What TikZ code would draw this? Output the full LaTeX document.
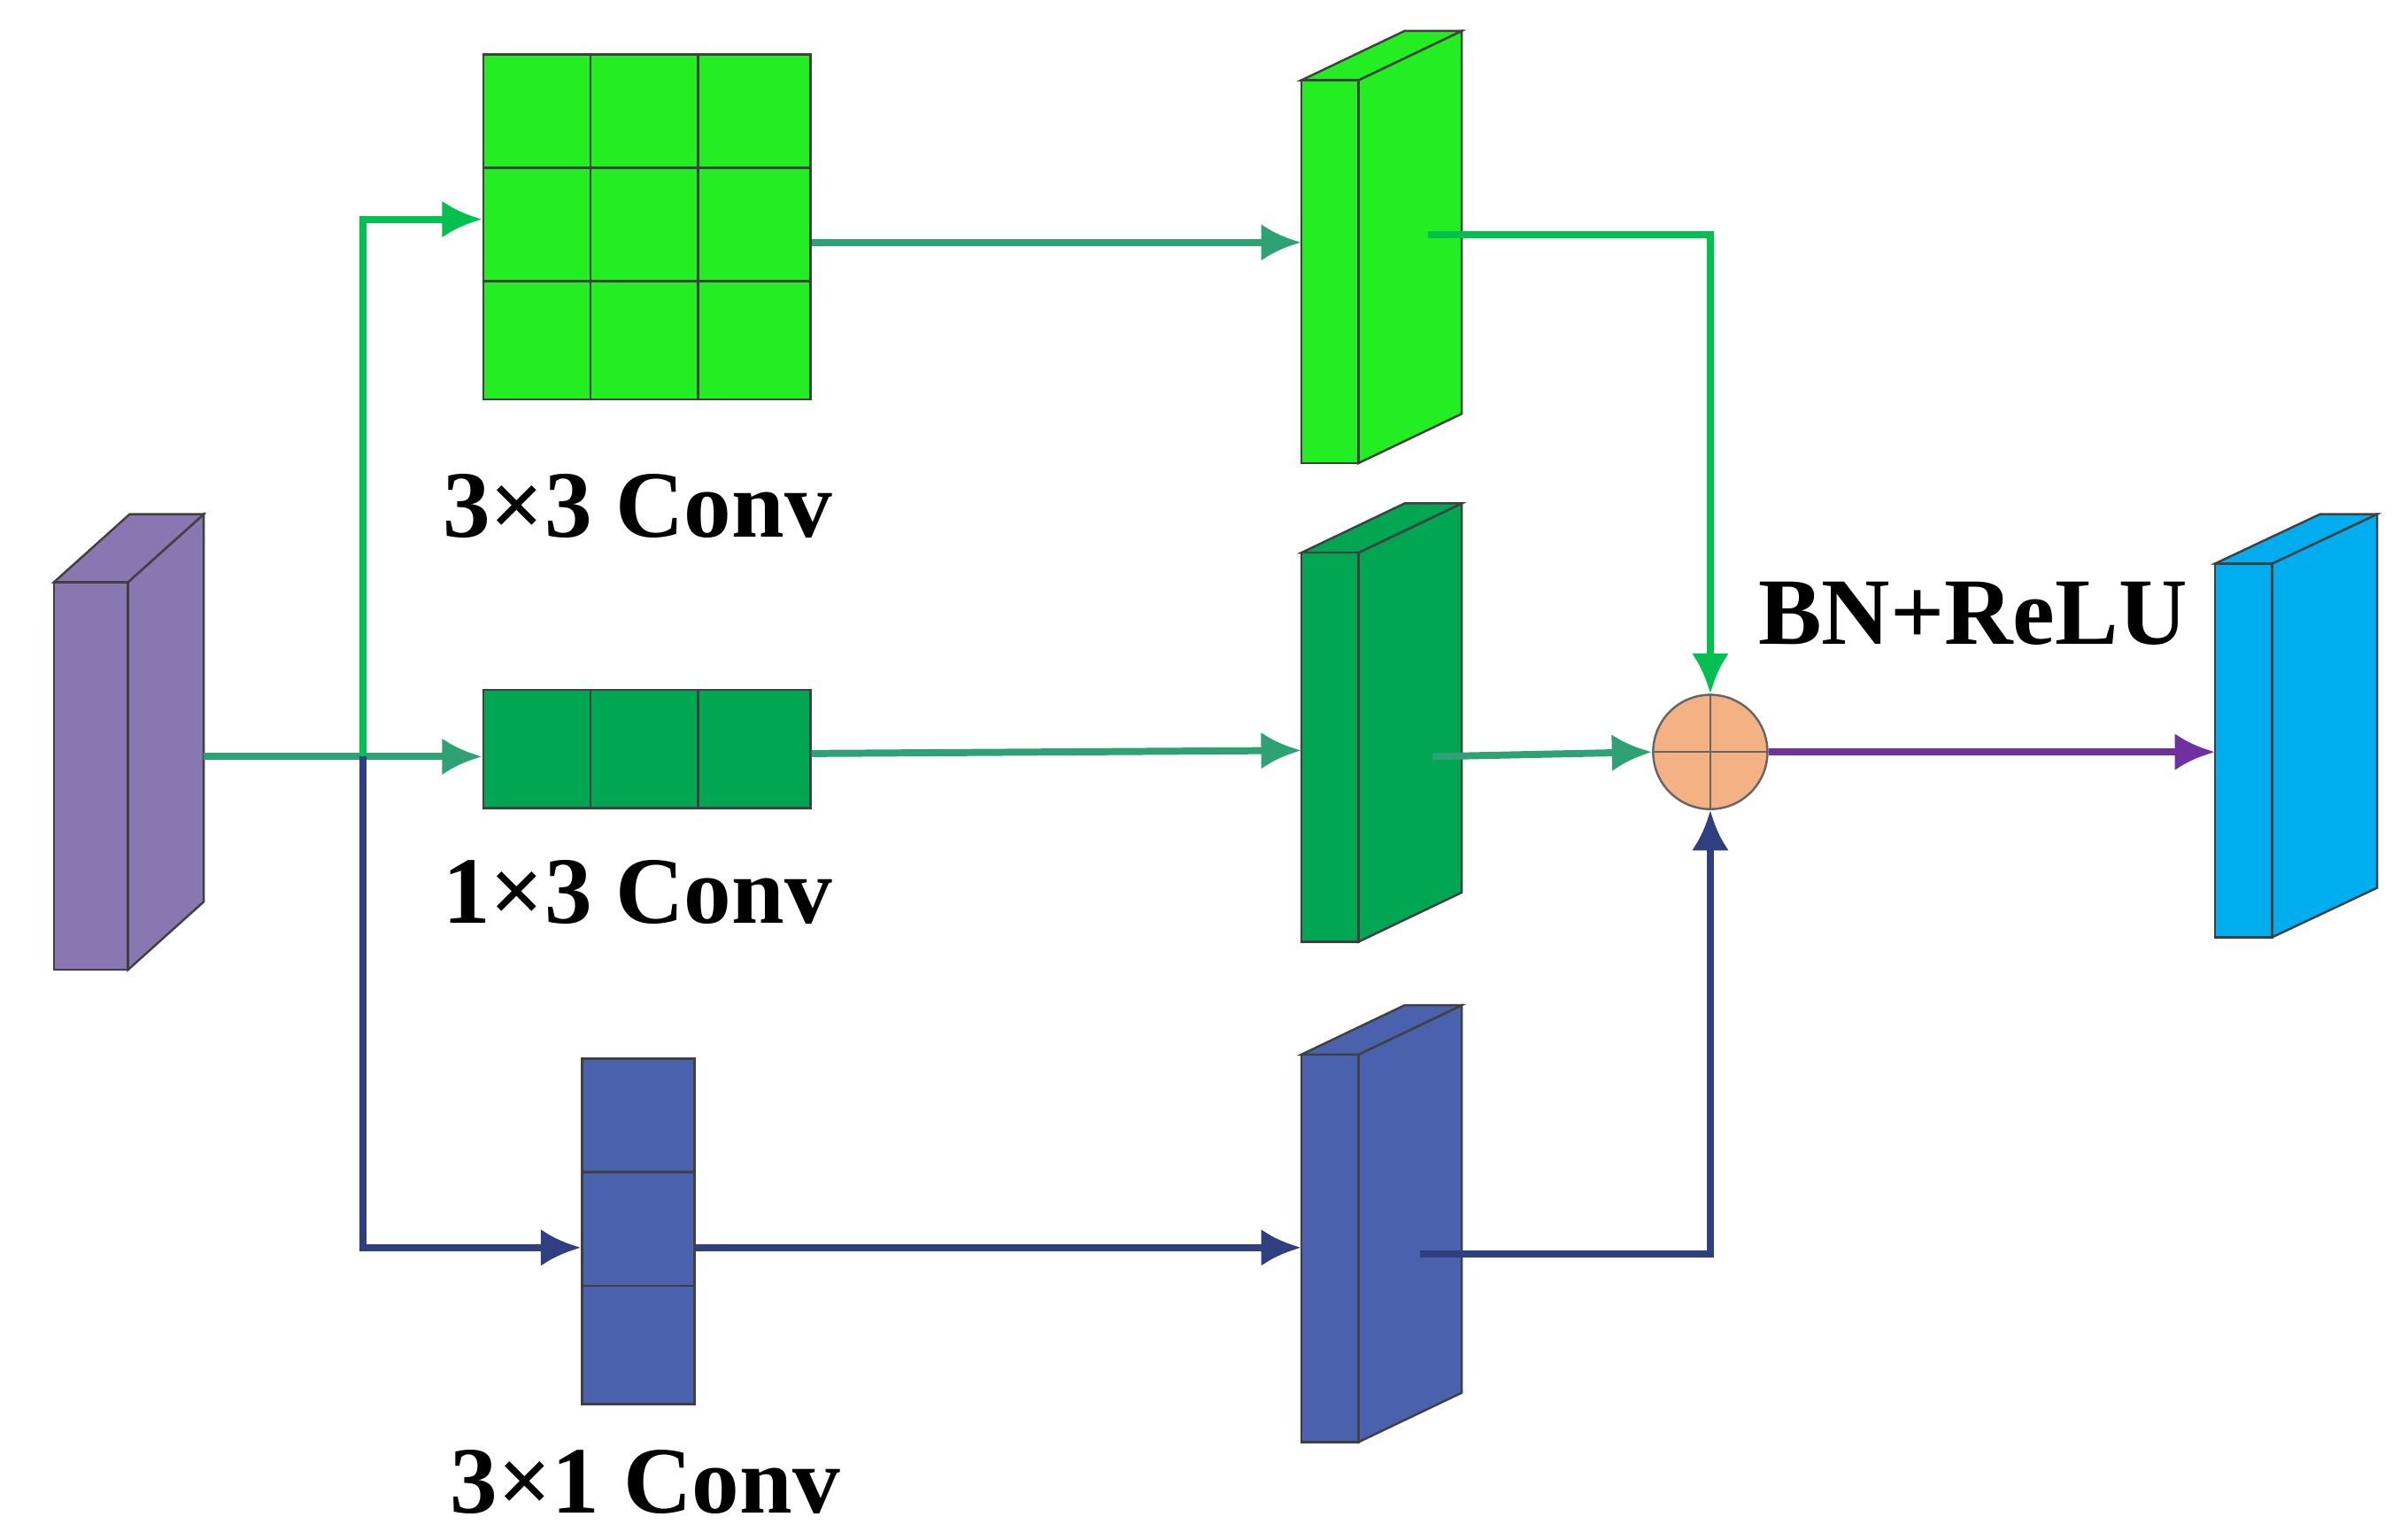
\documentclass[tikz,border=0pt]{standalone}
\usepackage{fontspec}
\setmainfont{Liberation Serif}
\usetikzlibrary{matrix,positioning,arrows.meta}
\tikzset{>={Latex[length=2.6mm,width=2.4mm]}}
\definecolor{inpurple}{HTML}{8877B0}
\definecolor{brgreen}{HTML}{22EE22}
\definecolor{dkgreen}{HTML}{00A651}
\definecolor{myblue}{HTML}{4A62AE}
\definecolor{outblue}{HTML}{00AEEF}
\definecolor{sumfill}{HTML}{F4B183}
\definecolor{lnteal}{HTML}{2EA275}
\definecolor{lngreen}{HTML}{00C050}
\definecolor{lnnavy}{HTML}{2F3F80}
\definecolor{lnpurple}{HTML}{7030A0}
% 3d feature block: name, x, ytop, ybot, width, dx, dy, colour
\newcommand{\fblock}[8]{%
  \filldraw[fill=#8,draw=black!75,thin] (#2+#5,#3) -- ++(#6,-#7) -- (#2+#5+#6,#4-#7) -- (#2+#5,#4) -- cycle;
  \filldraw[fill=#8,draw=black!75,thin] (#2,#3) -- ++(#6,-#7) -- ++(#5,0) -- (#2+#5,#3) -- cycle;
  \node[draw=black!75,thin,fill=#8,inner sep=0,outer sep=0,anchor=north west,
        minimum width={#5*0.01cm},minimum height={(#4-#3)*0.01cm}] (#1) at (#2,#3) {};}
\begin{document}
\begin{tikzpicture}[x=0.01cm,y=-0.01cm,
  line width=1.3pt,
  GRID/.style={matrix of nodes,
               nodes={draw=black!75,thin,minimum width=7.27mm,minimum height=7.66mm,
                      anchor=center,inner sep=0pt,outer sep=0pt},
               column sep=-\pgflinewidth, row sep=-\pgflinewidth,
               inner sep=0pt, outer sep=0pt},
  LBL/.style={font=\fontsize{17.5}{20}\selectfont\bfseries},
  sumnode/.style={circle,draw=black!60,thin,fill=sumfill,minimum size=7.4mm,inner sep=0}
]
\useasboundingbox (0,0) rectangle (1560,997);

% input and output blocks
\fblock{inp}{35}{377}{628}{48}{49}{44}{inpurple}
\fblock{out}{1435}{365}{607}{37}{68}{32}{outblue}

% kernels
\matrix (k33) [GRID, nodes={fill=brgreen}] at (419,147)
{ {} & {} & {} \\ {} & {} & {} \\ {} & {} & {} \\ };
\matrix (k13) [GRID, nodes={fill=dkgreen}] at (419,485)
{ {} & {} & {} \\ };
\matrix (k31) [GRID, nodes={fill=myblue}] at (413.5,797.5)
{ {} \\ {} \\ {} \\ };
\node[LBL] at (413,328) {3×3 Conv};
\node[LBL] at (413,578) {1×3 Conv};
\node[LBL] at (418,960) {3×1 Conv};

% feature maps
\fblock{f1}{843}{52}{300}{37}{67}{32}{brgreen}
\fblock{f2}{843}{358}{610}{37}{67}{32}{dkgreen}
\fblock{f3}{843}{683}{934}{37}{67}{32}{myblue}

% fusion
\node[sumnode] (sum) at (1108,487) {};
\draw[thin,black!60] (sum.north) -- (sum.south) (sum.west) -- (sum.east);
\node[LBL,anchor=south] at (1278,432) {BN+ReLU};

% connectors
\coordinate (br) at (235,490);
\coordinate (src) at (132,490);
\draw[->,lnteal] (src) -- (k13.west |- br);
\draw[->,lngreen] (br) |- (k33.west |- 0,142);
\draw[->,lnnavy] (br) |- (k31.west |- 0,808);
\draw[->,lnteal] (k33.east |- 0,157) -- (f1.west |- 0,157);
\draw[->,lnteal] (k13.east |- 0,488) -- (f2.west |- 0,486);
\draw[->,lnnavy] (k31.east |- 0,808) -- (f3.west |- 0,808);
\draw[->,lngreen] (925,152) -| (sum.north);
\draw[->,lnteal] (928,490) -- (sum.west);
\draw[->,lnnavy] (920,812) -| (sum.south);
\draw[->,lnpurple] (sum.east) -- (out.west |- sum);
\end{tikzpicture}
\end{document}
